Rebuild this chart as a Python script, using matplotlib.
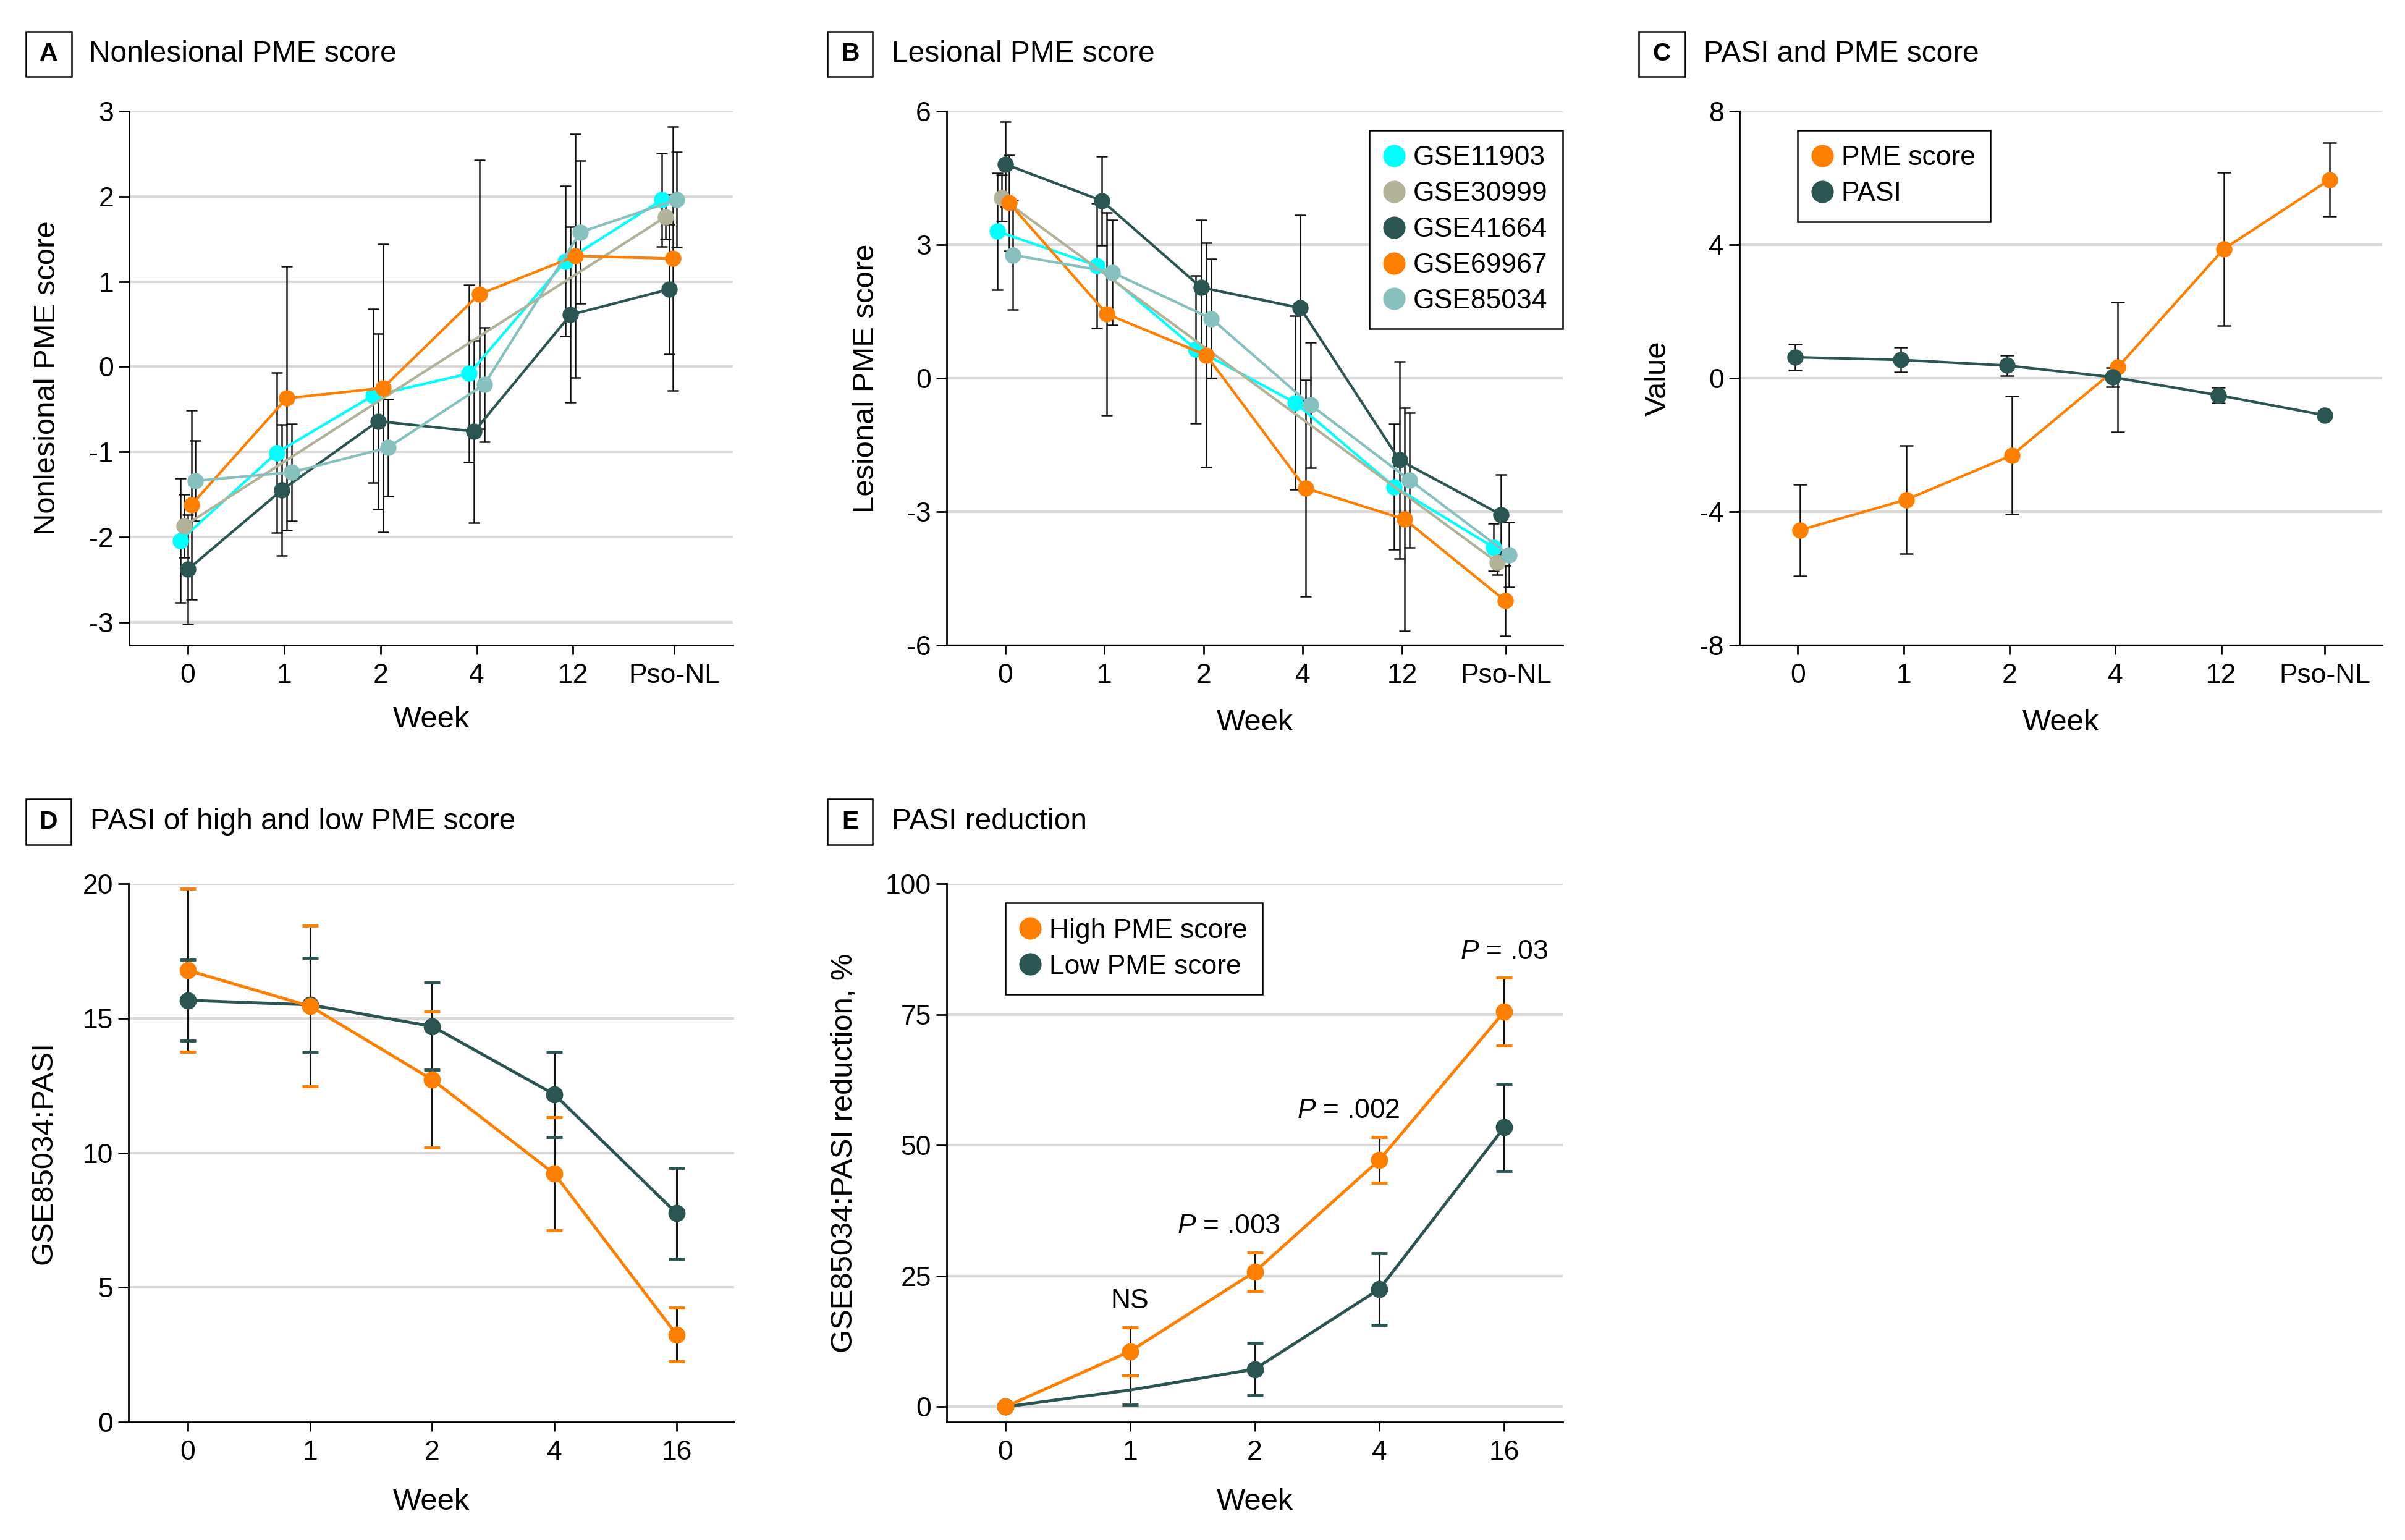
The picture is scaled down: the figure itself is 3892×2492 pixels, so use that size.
import numpy as np
import matplotlib
matplotlib.use('Agg')
import matplotlib.pyplot as plt
from matplotlib import font_manager as fm
from matplotlib.patches import Rectangle
from matplotlib.lines import Line2D

# ---------------- data ----------------
weeks_ab = ['0', '1', '2', '4', '12', 'Pso-NL']
weeks_de = ['0', '1', '2', '4', '16']
datasets = ['GSE11903', 'GSE30999', 'GSE41664', 'GSE69967', 'GSE85034']
nan = np.nan

# Panel A: nonlesional PME score (mean, error)
nl_gse11903 = [-2.04, -1.01, -0.34, -0.08, 1.24, 1.96]
nl_gse11903_err = [0.73, 0.94, 1.02, 1.04, 0.88, 0.55]
nl_gse30999 = [-1.87, nan, nan, nan, nan, 1.76]
nl_gse30999_err = [0.37, nan, nan, nan, nan, 0.26]
nl_gse41664 = [-2.38, -1.45, -0.64, -0.76, 0.61, 0.91]
nl_gse41664_err = [0.64, 0.77, 1.03, 1.07, 1.03, 0.76]
nl_gse69967 = [-1.62, -0.37, -0.25, 0.85, 1.30, 1.27]
nl_gse69967_err = [1.11, 1.55, 1.69, 1.58, 1.43, 1.55]
nl_gse85034 = [-1.34, -1.24, -0.95, -0.21, 1.58, 1.96]
nl_gse85034_err = [0.47, 0.57, 0.57, 0.67, 0.84, 0.56]

# Panel B: lesional PME score
l_gse11903 = [3.30, 2.53, 0.65, -0.55, -2.44, -3.80]
l_gse11903_err = [1.31, 1.40, 1.66, 1.95, 1.41, 0.54]
l_gse30999 = [4.05, nan, nan, nan, nan, -4.14]
l_gse30999_err = [0.52, nan, nan, nan, nan, 0.27]
l_gse41664 = [4.81, 3.99, 2.04, 1.58, -1.84, -3.07]
l_gse41664_err = [0.95, 1.00, 1.52, 2.08, 2.21, 0.90]
l_gse69967 = [3.94, 1.44, 0.52, -2.47, -3.17, -5.00]
l_gse69967_err = [1.08, 2.28, 2.52, 2.43, 2.51, 0.79]
l_gse85034 = [2.77, 2.38, 1.34, -0.60, -2.29, -3.97]
l_gse85034_err = [1.23, 1.18, 1.34, 1.41, 1.51, 0.73]

# Panel C: PASI and PME score
c_pme = [-4.55, -3.64, -2.31, 0.33, 3.87, 5.95]
c_pme_err = [1.37, 1.62, 1.77, 1.95, 2.30, 1.10]
c_pasi = [0.63, 0.55, 0.38, 0.03, -0.51, -1.11]
c_pasi_err = [0.38, 0.37, 0.31, 0.29, 0.23, nan]

# Panel D: PASI of high and low PME score
d_high = [16.78, 15.45, 12.72, 9.22, 3.24]
d_high_err = [3.03, 2.99, 2.53, 2.10, 1.00]
d_low = [15.67, 15.50, 14.70, 12.17, 7.75]
d_low_err = [1.51, 1.75, 1.62, 1.58, 1.69]

# Panel E: PASI reduction, %
e_high = [0.0, 10.6, 25.8, 47.2, 75.5]
e_high_err = [nan, 4.6, 3.7, 4.4, 6.5]
e_low = [0.0, 3.2, 7.2, 22.5, 53.4]
e_low_err = [nan, 2.8, 5.0, 6.8, 8.3]
e_pvals = ['NS', '$P$ = .003', '$P$ = .002', '$P$ = .03']

# ---------------- style ----------------
names = {f.name for f in fm.fontManager.ttflist}
if 'Liberation Sans Narrow' in names:
    FAM, K = 'Liberation Sans Narrow', 1.0
elif 'Liberation Sans' in names:
    FAM, K = 'Liberation Sans', 0.84
else:
    FAM, K = 'DejaVu Sans', 0.76
plt.rcParams['font.family'] = [FAM, 'DejaVu Sans']
plt.rcParams['axes.unicode_minus'] = False
plt.rcParams['mathtext.fontset'] = 'custom'
plt.rcParams['mathtext.rm'] = FAM
plt.rcParams['mathtext.it'] = FAM + ':italic'

TITLE = 41 * K
LABEL = 42 * K
TICK = 38 * K
LEG = 38 * K
LETTER = 35 * K

CYAN = '#00FFFF'
TAN = '#B2B298'
DARK = '#2A5553'
ORANGE = '#FF7F00'
LTEAL = '#86C1BF'
colors5 = [CYAN, TAN, DARK, ORANGE, LTEAL]
GRID = '#D9D9D9'
EBAR = '#111111'

W, H = 3892, 2492
fig = plt.figure(figsize=(W / 100, H / 100), dpi=100)
fig.patch.set_facecolor('white')


def add_ax(l, t, r, b):
    return fig.add_axes([l / W, 1 - b / H, (r - l) / W, (b - t) / H])


def header(x0, y0, x1, y1, letter, title, tx):
    fig.patches.append(Rectangle((x0 / W, 1 - y1 / H), (x1 - x0) / W, (y1 - y0) / H,
                                 transform=fig.transFigure, fill=False,
                                 ec='black', lw=1.8))
    cy = (y0 + y1) / 2
    fig.text((x0 + x1) / 2 / W, 1 - cy / H, letter, ha='center', va='center',
             fontsize=LETTER, fontweight='bold')
    fig.text(tx / W, 1 - cy / H, title, ha='left', va='center', fontsize=TITLE)


def style(ax, xlim, ylim, yticks, xticks, xlabels, ylabel, ylx, xly):
    ax.set_xlim(*xlim)
    ax.set_ylim(*ylim)
    ax.set_yticks(yticks)
    ax.set_xticks(xticks)
    ax.set_xticklabels(xlabels)
    for s in ['top', 'right']:
        ax.spines[s].set_visible(False)
    for s in ['left', 'bottom']:
        ax.spines[s].set_linewidth(2)
        ax.spines[s].set_color('black')
    ax.yaxis.grid(True, color=GRID, lw=3)
    ax.set_axisbelow(True)
    ax.tick_params(axis='x', length=11, width=2, pad=10, labelsize=TICK)
    ax.tick_params(axis='y', length=12, width=2, pad=6, labelsize=TICK)
    ax.set_ylabel(ylabel, fontsize=LABEL, va='center')
    ax.yaxis.set_label_coords(ylx, 0.5)
    ax.set_xlabel('Week', fontsize=LABEL, va='center')
    ax.xaxis.set_label_coords(0.5, xly)


def plot_multi(ax, vals, errs, cols, span=0.155):
    nweek = len(vals[0])
    offs = [[nan] * nweek for _ in vals]
    for i in range(nweek):
        present = [k for k in range(len(vals)) if not np.isnan(vals[k][i])]
        n = len(present)
        pos = np.linspace(-span / 2, span / 2, n) if n > 1 else [0.0]
        for k, p in zip(present, pos):
            offs[k][i] = p
    for k in range(len(vals)):
        idx = [i for i in range(nweek) if not np.isnan(vals[k][i])]
        x = np.array([i + offs[k][i] for i in idx])
        y = np.array([vals[k][i] for i in idx])
        e = np.array([errs[k][i] for i in idx])
        ax.errorbar(x, y, yerr=e, fmt='none', ecolor=EBAR, elinewidth=1.8,
                    capsize=6.5, capthick=1.8, zorder=3)
    for k in range(len(vals)):
        idx = [i for i in range(nweek) if not np.isnan(vals[k][i])]
        x = np.array([i + offs[k][i] for i in idx])
        y = np.array([vals[k][i] for i in idx])
        ax.plot(x, y, '-o', color=cols[k], lw=3, ms=18, zorder=4)


def legend(ax, labels, cols, loc, anchor):
    hs = [Line2D([], [], ls='none', marker='o', ms=25, color=c) for c in cols]
    lg = ax.legend(hs, labels, loc=loc, bbox_to_anchor=anchor, frameon=True,
                   fancybox=False, edgecolor='black', framealpha=1,
                   fontsize=LEG, handlelength=0.7, handletextpad=0.35,
                   borderpad=0.55, labelspacing=0.38, borderaxespad=0)
    lg.get_frame().set_linewidth(1.8)
    return lg


# ---------------- Panel A ----------------
axA = add_ax(209, 180, 1186, 1044)
plot_multi(axA,
           [nl_gse11903, nl_gse30999, nl_gse41664, nl_gse69967, nl_gse85034],
           [nl_gse11903_err, nl_gse30999_err, nl_gse41664_err, nl_gse69967_err, nl_gse85034_err],
           colors5)
style(axA, (-0.61, 5.66), (-3.27, 3), range(-3, 4), [0, 1, 2, 3, 4, 5.05], weeks_ab,
      'Nonlesional PME score', -0.136, -0.14)
header(42, 51, 116, 124, 'A', 'Nonlesional PME score', 144)

# ---------------- Panel B ----------------
axB = add_ax(1532, 180, 2529, 1044)
plot_multi(axB,
           [l_gse11903, l_gse30999, l_gse41664, l_gse69967, l_gse85034],
           [l_gse11903_err, l_gse30999_err, l_gse41664_err, l_gse69967_err, l_gse85034_err],
           colors5)
style(axB, (-0.59, 5.62), (-6, 6), [-6, -3, 0, 3, 6], [0, 1, 2, 3, 4, 5.05], weeks_ab,
      'Lesional PME score', -0.131, -0.145)
legend(axB, datasets, colors5, 'upper right', (1.0, 0.964))
header(1339, 51, 1412, 124, 'B', 'Lesional PME score', 1443)

# ---------------- Panel C ----------------
axC = add_ax(2815, 180, 3855, 1044)
xc = np.arange(len(weeks_ab))
for vals, errs, col, off in [(c_pme, c_pme_err, ORANGE, 0.024), (c_pasi, c_pasi_err, DARK, -0.024)]:
    v = np.array(vals)
    e = np.array(errs)
    m = ~np.isnan(e)
    axC.errorbar(xc[m] + off, v[m], yerr=e[m], fmt='none', ecolor=EBAR, elinewidth=1.8,
                 capsize=8, capthick=1.8, zorder=3)
for vals, col, off in [(c_pme, ORANGE, 0.024), (c_pasi, DARK, -0.024)]:
    axC.plot(xc + off, vals, '-o', color=col, lw=3, ms=18, zorder=4)
style(axC, (-0.55, 5.52), (-8, 8), [-8, -4, 0, 4, 8], [0, 1, 2, 3, 4, 4.98], weeks_ab,
      'Value', -0.127, -0.145)
legend(axC, ['PME score', 'PASI'], [ORANGE, DARK], 'upper left', (0.09, 0.964))
header(2652, 51, 2727, 124, 'C', 'PASI and PME score', 2757)


# ---------------- Panels D, E ----------------
def plot_pair(ax, series, markevery_low=None):
    x = np.arange(len(weeks_de))
    for vals, errs, col in series:
        v = np.array(vals)
        e = np.array(errs)
        m = ~np.isnan(e)
        ax.errorbar(x[m], v[m], yerr=e[m], fmt='none', ecolor=EBAR, elinewidth=2.2,
                    capsize=0, zorder=3)
        ax.plot(x[m], v[m] + e[m], ls='none', marker='_', ms=19, mew=3.5, color=col, zorder=3.5)
        ax.plot(x[m], v[m] - e[m], ls='none', marker='_', ms=19, mew=3.5, color=col, zorder=3.5)
    marks = [markevery_low, None]
    for (vals, errs, col), me in zip(series, marks):
        ax.plot(x, vals, '-o', color=col, lw=3.5, ms=19, zorder=4, markevery=me)


axD = add_ax(208, 1430, 1188, 2301)
plot_pair(axD, [(d_low, d_low_err, DARK), (d_high, d_high_err, ORANGE)])
style(axD, (-0.485, 4.47), (0, 20), [0, 5, 10, 15, 20], range(5), weeks_de,
      'GSE85034:PASI', -0.14, -0.149)
header(42, 1293, 115, 1367, 'D', 'PASI of high and low PME score', 146)

axE = add_ax(1532, 1430, 2529, 2301)
plot_pair(axE, [(e_low, e_low_err, DARK), (e_high, e_high_err, ORANGE)],
          markevery_low=[0, 2, 3, 4])
style(axE, (-0.47, 4.47), (-2.9, 100), [0, 25, 50, 75, 100], range(5), weeks_de,
      'GSE85034:PASI reduction, %', -0.166, -0.149)
legend(axE, ['High PME score', 'Low PME score'], [ORANGE, DARK], 'upper left', (0.095, 0.964))
header(1339, 1293, 1412, 1367, 'E', 'PASI reduction', 1443)

# significance labels above the high-score error bars (weeks 1, 2, 4, 16)
label_dx = [0.0, -0.21, -0.25, 0.0]
for j, txt in enumerate(e_pvals):
    i = j + 1
    top = e_high[i] + e_high_err[i]
    axE.text(i + label_dx[j], top + 5.0, txt, ha='center', va='center', fontsize=TICK)

fig.savefig('out.png', dpi=100, facecolor='white')
